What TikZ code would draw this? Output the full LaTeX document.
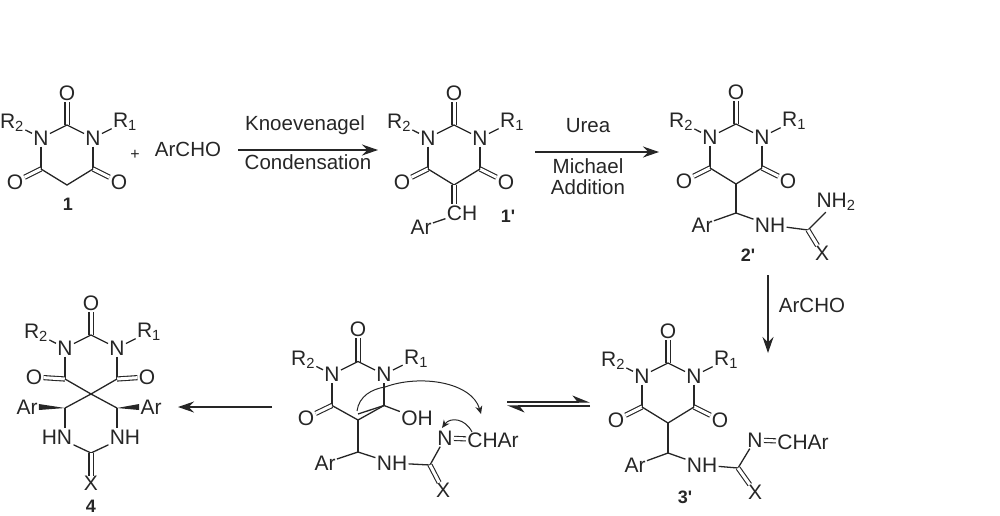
\documentclass[tikz,border=0pt]{standalone}
\usepackage{fontspec}
\setmainfont{Liberation Sans}
\usetikzlibrary{arrows.meta,calc}
\colorlet{ink}{black!85}
\tikzset{
    atom/.style={ink,inner sep=1.2pt,font=\fontsize{21}{23}\selectfont},
    word/.style={ink,inner sep=0pt,font=\fontsize{20.5}{23}\selectfont},
    tag/.style={ink,inner sep=0pt,font=\fontsize{18}{20}\selectfont\bfseries},
    bond/.style={ink,line width=1.3pt},
    dbond/.style={ink,double,double distance=3pt,line width=1.1pt},
    rxn/.style={ink,line width=1.3pt,-{Stealth[length=16pt,width=11pt]}},
    eqm/.style={ink,line width=1.3pt,-{Stealth[harpoon,length=16pt,width=13pt]}},
    curly/.style={ink,line width=1pt,-{Stealth[length=8pt,width=7pt]}},
    pics/barbi/.style={code={
        \coordinate (-c2) at (0,0);
        \coordinate (-c4) at (-26,44);
        \coordinate (-c6) at (26,44);
        \node [atom] (-o) at (0,-32) {O};
        \node [atom] (-nl) at (-26,13) {N};
        \node [atom] (-nr) at (26,13) {N};
        \node [atom] (-r2) at (-55,-2) {R\textsubscript{2}};
        \node [atom] (-r1) at (58,-3) {R\textsubscript{1}};
        \draw [dbond] (-c2) -- (-o);
        \draw [bond] (-nl) -- (-c2) -- (-nr);
        \draw [bond] (-nl) -- (-c4);
        \draw [bond] (-nr) -- (-c6);
        \draw [bond] (-r2) -- (-nl);
        \draw [bond] (-r1) -- (-nr);
    }},
    pics/dione/.style={code={
        \coordinate (-c5) at (0,60);
        \node [atom] (-ol) at (-52,57) {O};
        \node [atom] (-or) at (52,57) {O};
        \draw [dbond] (-c4) -- (-ol);
        \draw [dbond] (-c6) -- (-or);
        \draw [bond] (-c4) -- (-c5) -- (-c6);
    }}
}
\begin{document}
\begin{tikzpicture}[x=1pt,y=-1pt]
    \useasboundingbox (0,0) rectangle (1000,515);
    % barbituric acid
    \pic (a) at (67,125) {barbi};
    \pic (a) at (67,125) {dione};
    \node [tag] (alabel) at (68,204) {1};
    \node [ink,inner sep=0pt,font=\fontsize{16}{16}\selectfont] (plus) at (135,155) {+};
    \node [word] (archoa) at (188,149) {ArCHO};
    % knoevenagel step
    \coordinate (s1) at (238,150);
    \coordinate (e1) at (378,150);
    \draw [rxn] (s1) -- (e1);
    \node [word] (knoev) at (305,125) {Knoevenagel};
    \node [word] (cond) at (308,162) {Condensation};
    % 1'
    \pic (b) at (454,125) {barbi};
    \pic (b) at (454,125) {dione};
    \node [atom] (bch) at (462,213) {CH};
    \node [atom] (bar) at (421,227) {Ar};
    \node [tag] (blabel) at (508,216) {1\textquotesingle};
    \draw [dbond] (b-c5) -- (b-c5 |- bch.north);
    \draw [bond] (bar) -- (bch);
    % michael step
    \coordinate (s2) at (535,152);
    \coordinate (e2) at (659,152);
    \draw [rxn] (s2) -- (e2);
    \node [word] (urea) at (588,126) {Urea};
    \node [word] (mich) at (588,166) {Michael};
    \node [word] (addn) at (588,187) {Addition};
    % 2'
    \pic (c) at (736,124) {barbi};
    \pic (c) at (736,124) {dione};
    \coordinate (cch) at (736,213);
    \coordinate (cur) at (808,230);
    \node [atom] (car) at (702,225) {Ar};
    \node [atom] (cnh) at (770,225) {NH};
    \node [atom] (cnh2) at (836,202) {NH\textsubscript{2}};
    \node [atom,inner sep=0pt] (cx) at (822,253) {X};
    \node [tag] (clabel) at (748,255) {2\textquotesingle};
    \draw [bond] (c-c5) -- (cch);
    \draw [bond] (car) -- (cch) -- (cnh);
    \draw [bond] (cnh) -- (cur);
    \draw [bond] (cur) -- (cnh2);
    \draw [dbond] (cur) -- (cx);
    % archo step
    \coordinate (s3) at (768,275);
    \coordinate (e3) at (768,353);
    \draw [rxn] (s3) -- (e3);
    \node [word] (archob) at (812,305) {ArCHO};
    % 3'
    \pic (d) at (668,363) {barbi};
    \pic (d) at (668,363) {dione};
    \coordinate (dch) at (668,453);
    \coordinate (dur) at (738,468);
    \node [atom] (dar) at (635,465) {Ar};
    \node [atom] (dnh) at (702,465) {NH};
    \node [atom] (dn) at (755,440) {N};
    \node [atom] (dchar) at (803,442) {CHAr};
    \node [atom,inner sep=0pt] (dx) at (755,492) {X};
    \node [tag] (dlabel) at (685,497) {3\textquotesingle};
    \draw [bond] (d-c5) -- (dch);
    \draw [bond] (dar) -- (dch) -- (dnh);
    \draw [bond] (dnh) -- (dur);
    \draw [bond] (dur) -- (dn);
    \draw [dbond] (dn) -- (dchar);
    \draw [dbond] (dur) -- (dx);
    % equilibrium
    \coordinate (s4) at (507,402);
    \coordinate (e4) at (590,402);
    \coordinate (s5) at (590,406);
    \coordinate (e5) at (507,406);
    \draw [eqm] (s4) -- (e4);
    \draw [eqm] (s5) -- (e5);
    % enol
    \pic (f) at (358,361.5) {barbi};
    \coordinate (fc5) at (358,420);
    \coordinate (fin) at (358,414);
    \coordinate (fch) at (358,452);
    \coordinate (fur) at (430,465);
    \node [atom] (fol) at (306,418) {O};
    \node [atom] (foh) at (417,418) {OH};
    \node [atom] (far) at (325,463) {Ar};
    \node [atom] (fnh) at (392,463) {NH};
    \node [atom] (fn) at (445,438) {N};
    \node [atom] (fchar) at (493,440) {CHAr};
    \node [atom,inner sep=0pt] (fx) at (443,490) {X};
    \draw [dbond] (f-c4) -- (fol);
    \draw [bond] (f-c4) -- (fc5) -- (f-c6);
    \draw [bond] (fin) -- (f-c6);
    \draw [bond] (f-c6) -- (foh);
    \draw [bond] (fc5) -- (fch);
    \draw [bond] (far) -- (fch) -- (fnh);
    \draw [bond] (fnh) -- (fur);
    \draw [bond] (fur) -- (fn);
    \draw [dbond] (fn) -- (fchar);
    \draw [dbond] (fur) -- (fx);
    \coordinate (ca) at (357,411);
    \coordinate (cb) at (385,387);
    \coordinate (cc) at (481,414);
    \coordinate (cd) at (472,432);
    \coordinate (ce) at (442,428);
    \draw [curly] (ca) .. controls (359,396) and (372,389) .. (cb)
        .. controls (420,374) and (472,382) .. (cc);
    \draw [curly] (cd) .. controls (465,418) and (450,417) .. (ce);
    % step to 4
    \coordinate (s6) at (272,407);
    \coordinate (e6) at (178,407);
    \draw [rxn] (s6) -- (e6);
    % 4
    \pic (g) at (91,335) {barbi};
    \coordinate (gsp) at (91,394);
    \coordinate (gcl) at (65,408);
    \coordinate (gcr) at (117,408);
    \coordinate (gur) at (91,453);
    \node [atom] (gol) at (34,377) {O};
    \node [atom] (gor) at (147,377) {O};
    \node [atom] (garl) at (27,407) {Ar};
    \node [atom] (garr) at (151,407) {Ar};
    \node [atom] (ghn) at (57,437) {HN};
    \node [atom] (gnh) at (125,437) {NH};
    \node [atom,inner sep=0pt] (gx) at (91,483) {X};
    \node [tag] (glabel) at (91,506.5) {4};
    \draw [dbond] (g-c4) -- (gol);
    \draw [dbond] (g-c6) -- (gor);
    \draw [bond] (g-c4) -- (gsp) -- (g-c6);
    \draw [bond] (gcl) -- (gsp) -- (gcr);
    \fill [ink] (gcl) -- ($(garl.east)+(0,-3)$) -- ($(garl.east)+(0,3)$) -- cycle;
    \fill [ink] (gcr) -- ($(garr.west)+(0,-3)$) -- ($(garr.west)+(0,3)$) -- cycle;
    \draw [bond] (gcl) -- (ghn.north -| gcl);
    \draw [bond] (gcr) -- (gnh.north -| gcr);
    \draw [bond] (ghn) -- (gur) -- (gnh);
    \draw [dbond] (gur) -- (gx);
\end{tikzpicture}
\end{document}
